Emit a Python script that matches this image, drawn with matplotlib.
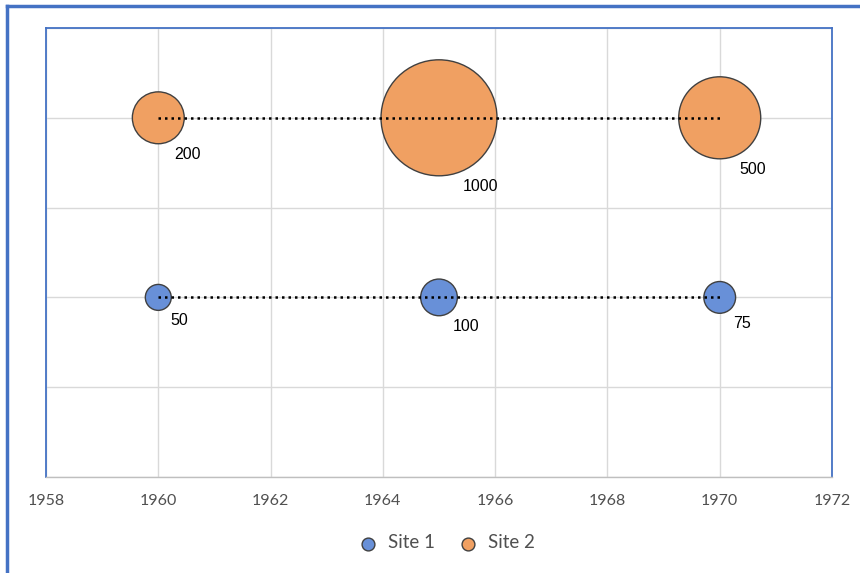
import numpy as np
import matplotlib.pyplot as plt
from matplotlib.lines import Line2D

# data
years = [1960, 1965, 1970]
site1_y = [1, 1, 1]
site1_size = [50, 100, 75]
site2_y = [2, 2, 2]
site2_size = [200, 1000, 500]
series_names = ["Site 1", "Site 2"]

blue = "#6890D8"
orange = "#F0A062"
frame_blue = "#4472C4"

DPI = 100
fig = plt.figure(figsize=(8.6, 5.73), dpi=DPI)
ax = fig.add_axes([46 / 860, 1 - 477 / 573, (832 - 46) / 860, (477 - 28) / 573])

# bubble area proportional to value; 1000 -> radius ~58 px
scale = (2 * 58 * 72 / DPI) ** 2 / 1000.0


def radius_px(v):
    return np.sqrt(v * scale) / 2 * DPI / 72


for y, s, col, name in [(site1_y, site1_size, blue, series_names[0]),
                        (site2_y, site2_size, orange, series_names[1])]:
    ax.scatter(years, y, s=np.array(s) * scale, color=col, edgecolor="#404040",
               linewidth=1.0, zorder=3, label=name)
    # dotted connector drawn over the bubbles
    ax.plot(years, y, color="black", linestyle=(0, (1, 1.6)), linewidth=1.8, zorder=4)
    for xx, yy, v in zip(years, y, s):
        r = radius_px(v)
        ax.annotate(str(v), (xx, yy), xytext=(0.25 * r + 9, -(r + 3)),
                    textcoords="offset pixels", ha="left", va="top",
                    fontsize=11.5, family="Liberation Sans", color="black", zorder=5)

ax.set_xlim(1958, 1972)
ax.set_ylim(0, 2.5)
ax.set_xticks(np.arange(1958, 1973, 2))
ax.set_yticks(np.arange(0, 2.51, 0.5))
ax.set_yticklabels([])
ax.grid(True, color="#D9D9D9", linewidth=1.0, zorder=0)
ax.set_axisbelow(True)
ax.tick_params(axis="both", length=0)
ax.tick_params(axis="x", labelsize=11.5, labelcolor="#505050", pad=12)
for lab in ax.get_xticklabels():
    lab.set_family("Lato")

for side in ["left", "top", "right"]:
    ax.spines[side].set_color(frame_blue)
    ax.spines[side].set_linewidth(1.3)
ax.spines["bottom"].set_color("#BFBFBF")
ax.spines["bottom"].set_linewidth(1.0)

leg = fig.legend(loc="center", bbox_to_anchor=(442 / 860, 1 - 543 / 573), ncol=2,
                 frameon=False, prop={"family": "Lato", "size": 13.5},
                 handletextpad=0.05, columnspacing=0.8, markerscale=1.0)
for h in leg.legend_handles:
    h.set_sizes([85])
for t in leg.get_texts():
    t.set_color("#505050")

# outer chart frame (only top and left visible)
fig.add_artist(Line2D([7 / 860, 7 / 860], [0, 1 - 6 / 573], transform=fig.transFigure,
                      color=frame_blue, linewidth=2.5))
fig.add_artist(Line2D([7 / 860, 1], [1 - 6 / 573, 1 - 6 / 573], transform=fig.transFigure,
                      color=frame_blue, linewidth=2.5))

fig.savefig("out.png", dpi=DPI)
